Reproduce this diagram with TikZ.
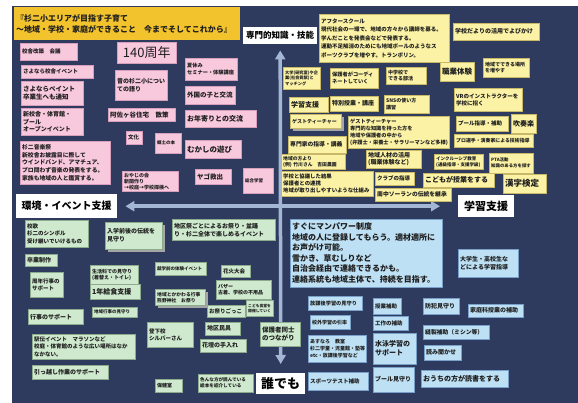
\documentclass[tikz,border=0pt]{standalone}
\usepackage{fontspec}
\setmainfont{Noto Sans CJK JP}
\usetikzlibrary{arrows.meta,shadows}

\definecolor{kon}{RGB}{46,58,94}
\definecolor{yamabuki}{RGB}{243,195,45}
\definecolor{momo}{RGB}{248,200,220}
\definecolor{momoline}{RGB}{214,160,188}
\definecolor{kiiro}{RGB}{251,242,166}
\definecolor{kiiroline}{RGB}{200,185,105}
\definecolor{midori}{RGB}{206,233,205}
\definecolor{midoriline}{RGB}{140,170,140}
\definecolor{mizu}{RGB}{190,224,244}
\definecolor{mizuline}{RGB}{120,160,200}
\definecolor{jiku}{RGB}{163,182,212}
\definecolor{sumi}{RGB}{30,30,30}

\tikzset{
  card/.style={anchor=north west, line width=0.4pt, inner xsep=2pt, inner ysep=1pt, align=left, text=sumi},
  pk/.style={card, fill=momo, draw=momoline},
  ye/.style={card, fill=kiiro, draw=kiiroline},
  gr/.style={card, fill=midori, draw=midoriline},
  bl/.style={card, fill=mizu, draw=mizuline},
  sz/.style 2 args={text width=#1pt-4pt, minimum height=#2pt},
  fs/.style 2 args={font=\fontsize{#1}{#2}\selectfont\bfseries},
  jikulbl/.style={anchor=north west, fill=white, inner xsep=2pt, inner ysep=1pt, align=center, text=black},
  shd/.style={drop shadow={shadow xshift=3pt, shadow yshift=-3pt, fill=gray!70, opacity=1}},
  jikusen/.style={jiku, line width=3.5pt, {Triangle[width=10pt,length=9pt]}-{Triangle[width=10pt,length=9pt]}},
}

\begin{document}
\begin{tikzpicture}[x=1pt,y=-1pt]
\useasboundingbox (0,0) rectangle (578,403);
% 背景
\fill[kon] (12,6) rectangle (578,403);
% タイトル
\node[card, fill=yamabuki, draw=none, sz={226}{33}, fs={8}{11}] (title) at (14,7) {『杉二小エリアが目指す子育て\\～地域・学校・家庭ができること　今までそしてこれから』};

% 軸
\node[jikulbl, sz={74}{17}, font=\fontsize{8.5}{10}\selectfont\bfseries] (senmonlbl) at (243,27) {専門的知識・技能};
\node[jikulbl, sz={101}{24}, font=\fontsize{10}{12}\selectfont\bfseries] (kankyo) at (16,194) {環境・イベント支援};
\node[jikulbl, sz={56}{22}, font=\fontsize{11}{13}\selectfont\bfseries] (gakushulbl) at (458,195) {学習支援};
\node[jikulbl, sz={49}{21}, font=\fontsize{13}{15}\selectfont\bfseries] (daredemo) at (256,373) {誰でも};
\draw[jikusen] ([yshift=-6pt]senmonlbl.south) -- ([yshift=9pt]daredemo.north);
\draw[jikusen] ([xshift=8pt]kankyo.east) -- ([xshift=-18pt]gakushulbl.west);

% 左上
\node[pk, sz={57}{17}, fs={5.5}{7}] (kaigi) at (20,43) {校舎改築　会議};
\node[pk, sz={59}{21}, align=center, font=\fontsize{13}{15}\selectfont] (shunen140) at (117,42) {140周年};
\node[pk, sz={72}{13}, fs={5.5}{7}] (sayonara) at (21,65) {さよなら校舎イベント};
\node[pk, sz={62}{24}, fs={6.5}{8.5}] (paint) at (21,81) {さよならペイント\\卒業生へも通知};
\node[pk, sz={62}{27}, fs={6}{7.8}] (shinkousha) at (21,108) {新校舎・体育館・\\プール\\オープンイベント};
\node[pk, sz={52}{30}, fs={6}{8.5}] (mukashi) at (115,70) {昔の杉二小につい\\ての語り};
\node[pk, sz={67}{13}, fs={6.5}{8}] (asagaya) at (108,108) {阿佐ヶ谷住宅　散策};
\node[pk, sz={16}{13}, fs={5.5}{7}] (bunka) at (126,131) {文化};
\node[pk, sz={26}{20}, fs={4.5}{6}] (kyoudo) at (155,133) {郷土の本};
\node[pk, sz={90}{43}, fs={5.8}{7.8}] (ongakusai) at (20,141) {杉二音楽祭\\新校舎お披露目に際して\\ウインドバンド、アマチュア、\\プロ問わず音楽の発表をする。\\家族も地域の人と鑑賞する。};
\node[pk, sz={56}{20}, fs={5}{6}] (oyaji) at (122,171) {おやじの会\\新聞作り\\→校庭→学校探検へ};
\node[pk, sz={52}{22}, fs={5.2}{7}] (natsu) at (185,58) {夏休み\\セミナー・体験講座};
\node[pk, sz={50}{18}, fs={6.5}{8}] (gaikoku) at (185,86) {外国の子と交流};
\node[pk, sz={71}{17}, fs={7}{8}] (otoshiyori) at (185,110) {お年寄りとの交流};
\node[pk, sz={56}{18}, fs={7.5}{9}] (asobi) at (185,140) {むかしの遊び};
\node[pk, sz={36}{15}, fs={6.5}{8}] (yago) at (195,169) {ヤゴ救出};
\node[pk, sz={30}{25}, fs={4.5}{6}] (sougou) at (243,168) {総合学習};

% 右上
\node[ye, sz={130}{48}, fs={5.5}{8.5}] (after) at (319,14) {アフタースクール\\現代社会の一環で、地域の方々から講師を募る。\\学んだことを発表会などで発表する。\\運動不足解消のためにも地域ボールのようなス\\ポーツクラブを増やす。トランポリン。};
\node[ye, sz={86}{17}, fs={6}{7}] (dayori) at (453,23) {学校だよりの活用でよびかけ};
\node[ye, sz={34}{19}, fs={7.5}{9}] (shokugyou) at (440,62) {職業体験};
\node[ye, sz={46}{19}, fs={5}{6.5}] (basho) at (483,58) {地域でできる場所\\を増やす};
\node[ye, sz={40}{17}, fs={5}{6.5}] (bukatsu) at (386,67) {中学校で\\できる部活};
\node[ye, sz={37}{22}, fs={4.2}{5.6}] (daigaku) at (283,67) {大学(研究室)や企\\業(社会貢献)と\\マッチング};
\node[ye, sz={48}{20}, fs={5.2}{7}] (coordi) at (330,68) {保護者がコーディ\\ネートしていく};
\node[ye, sz={45}{18}, fs={5}{6.5}] (sns) at (384,95) {SNSの使い方\\講習};
\node[ye, sz={68}{23}, fs={5.5}{7}] (vr) at (454,88) {VRのインストラクターを\\学校に招く};
\node[ye, sz={39}{15}, fs={7}{8}] (gakushu) at (289,97) {学習支援};
\node[ye, sz={48}{15}, fs={6}{7}] (tokubetsu) at (330,96) {特別授業・講座};
\node[ye, shd, sz={51}{14}, fs={5}{6}] (guest) at (290,114) {ゲストティーチャー};
\node[ye, sz={101}{32}, fs={5.2}{7}] (guest2) at (348,116) {ゲストティーチャー\\専門的な知識を持った方を\\地域や保護者の中から\\(弁護士・栄養士・サラリーマンなど多様)};
\node[ye, sz={52}{15}, fs={5.5}{7}] (pool) at (456,116) {プール指導・補助};
\node[ye, sz={25}{19}, fs={7}{8}] (suisou) at (511,114) {吹奏楽};
\node[ye, sz={79}{13}, fs={4.9}{6}] (pro) at (454,134) {プロ選手・演奏家による技術指導};
\node[ye, sz={58}{17}, fs={5.8}{7}] (senmon) at (288,136) {専門家の指導・講義};
\node[ye, sz={64}{15}, fs={4.8}{6}] (chiiki) at (281,154) {地域の方より\\(例) 竹川さん　吉田農園};
\node[ye, sz={55}{18}, fs={6}{7}] (jinzai) at (366,150) {地域人材の活用\\(職業体験など)};
\node[ye, sz={49}{15}, fs={4.5}{6}] (inclusive) at (434,154) {インクルーシブ教育\\(通級指導・支援学級)};
\node[ye, sz={44}{20}, fs={4.4}{6}] (pta) at (489,153) {PTA活動\\知識のある方を探す};
\node[ye, sz={92}{25}, fs={5.4}{7}] (kyougi) at (281,171) {学校と協議した結果\\保護者との連携\\地域が取り出しやすいような仕組み};
\node[ye, sz={39}{13}, fs={5.5}{7}] (club) at (375,172) {クラブの指導};
\node[ye, sz={71}{14}, fs={7}{8}] (jugyou) at (423,173) {こどもが授業をする};
\node[ye, sz={76}{13}, fs={5.8}{7}] (soran) at (375,188) {南中ソーランの伝統を継承};
\node[ye, sz={43}{19}, fs={8.5}{10}] (kanken) at (503,174) {漢字検定};

% 左下
\node[gr, sz={63}{27}, fs={5.5}{7.5}] (kouka) at (25,220) {校歌\\杉二のシンボル\\受け継いでいけるもの};
\node[gr, shd, sz={57}{27}, fs={6}{8}] (nyugaku) at (105,222) {入学前後の伝統を\\見守り};
\node[gr, sz={103}{21}, fs={6}{8}] (matsuri) at (172,219) {地区祭ごとによるお祭り・盆踊\\り・杉二全体で楽しめるイベント};
\node[gr, sz={32}{12}, fs={6}{7}] (sotsugyou) at (25,254) {卒業制作};
\node[gr, sz={48}{19}, fs={5}{6.5}] (seikatsu) at (90,265) {生活科での見守り\\(着替え・トイレ)};
\node[gr, sz={33}{25}, fs={5.5}{7.5}] (shunen) at (30,272) {周年行事の\\サポート};
\node[gr, sz={50}{15}, fs={7}{8}] (kyushoku) at (90,284) {1年給食支援};
\node[gr, sz={51}{13}, fs={4.5}{6}] (shugaku) at (155,262) {就学前の体験イベント};
\node[gr, sz={29}{12}, fs={5.5}{7}] (hanabi) at (221,265) {花火大会};
\node[gr, shd, sz={50}{16}, fs={4.8}{6}] (jinja) at (155,289) {地域とかかわる行事\\熊野神社　お祭り};
\node[gr, sz={55}{19}, fs={5}{6.5}] (bazaar) at (216,280) {バザー\\古着、学校の不用品};
\node[gr, sz={27}{16}, fs={3.8}{5}] (shokudo) at (246,300) {こども食堂を\\開催していく};
\node[gr, sz={38}{12}, fs={5.5}{7}] (gokko) at (207,305) {お祭りごっこ};
\node[gr, sz={35}{13}, fs={6}{7}] (mingu) at (205,322) {地区民具};
\node[gr, sz={46}{13}, fs={6}{7}] (kadan) at (200,339) {花壇の手入れ};
\node[gr, sz={40}{24}, fs={6.5}{8.5}] (hogosha) at (260,322) {保護者同士\\のつながり};
\node[gr, sz={55}{18}, fs={4.6}{6}] (shoukai) at (198,374) {色んな方が読んでいる\\絵本を紹介している};
\node[gr, sz={55}{15}, fs={6}{7}] (gyouji) at (28,309) {行事のサポート};
\node[gr, sz={45}{10}, fs={4.5}{5.5}] (mimamori) at (92,307) {地域行事の見守り};
\node[gr, sz={103}{25}, fs={5.5}{7.3}] (ekiden) at (32,334) {駅伝イベント　マラソンなど\\校庭・体育館のような広い場所はなか\\なかない。};
\node[gr, sz={46}{25}, fs={5.5}{7.5}] (silver) at (147,322) {登下校\\シルバーさん};
\node[gr, sz={76}{14}, fs={6}{7}] (hikkoshi) at (32,365) {引っ越し作業のサポート};
\node[gr, sz={27}{13}, fs={5}{6}] (hoken) at (155,379) {保健室};

% 右下
\node[bl, sz={152}{68}, fs={8}{10.5}] (manpower) at (290,219) {すぐにマンパワー制度\\地域の人に登録してもらう。適材適所に\\お声がけ可能。\\雪かき、草むしりなど\\自治会経由で連絡できるかも。\\連絡系統も地域主体で、持続を目指す。};
\node[bl, sz={60}{28}, fs={6}{8}] (daigakusei) at (458,249) {大学生・高校生な\\どによる学習指導};
\node[bl, sz={54}{14}, fs={5.2}{6.5}] (houkago) at (308,296) {放課後学習の見守り};
\node[bl, sz={36}{16}, fs={6}{7}] (bouhan) at (423,298) {防犯見守り};
\node[bl, sz={55}{13}, fs={6}{7}] (kateika) at (468,304) {家庭科授業の補助};
\node[bl, sz={40}{14}, fs={5}{6.5}] (insotsu) at (310,315) {校外学習の引率};
\node[bl, sz={28}{16}, fs={5.5}{7}] (hojo) at (373,298) {授業補助};
\node[bl, sz={35}{14}, fs={5.5}{7}] (kousaku) at (373,316) {工作の補助};
\node[bl, sz={43}{31}, fs={7}{9}] (suiei) at (373,333) {水泳学習の\\サポート};
\node[bl, sz={58}{27}, fs={5}{7}] (asunaro) at (308,335) {あすなろ　教室\\杉二学童・児童館・塾等\\etc・放課後学習など};
\node[bl, sz={60}{18}, fs={5.5}{7}] (sportstest) at (308,372) {スポーツテスト補助};
\node[bl, sz={41}{25}, fs={6}{7}] (poolmi) at (373,367) {プール見守り};
\node[bl, sz={66}{14}, fs={5.8}{7}] (mishin) at (423,325) {縫製補助（ミシン等）};
\node[bl, sz={37}{15}, fs={6}{7}] (yomikikase) at (424,345) {読み聞かせ};
\node[bl, sz={87}{17}, fs={7}{8}] (dokusho) at (421,370) {おうちの方が読書をする};
\end{tikzpicture}
\end{document}
